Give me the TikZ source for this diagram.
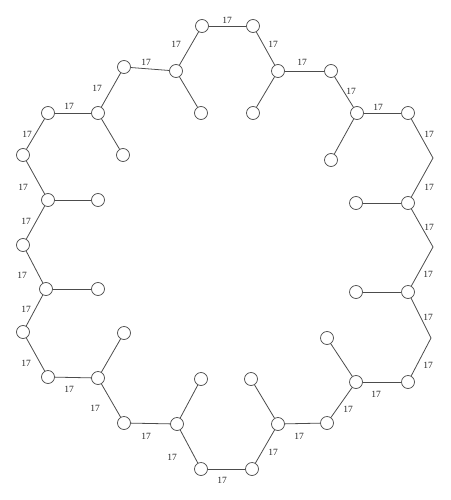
\documentclass[tikz,border=0pt]{standalone}
\usepackage{fontspec}
\setmainfont{Liberation Serif}
\begin{document}
\begin{tikzpicture}[x=1pt,y=-1pt,
  vtx/.style={circle,draw=black!70,fill=white,line width=0.7pt,minimum size=13pt,inner sep=0pt},
  lbl/.style={font=\fontsize{9.5}{10}\selectfont,text=black!85,inner sep=0pt},
  edg/.style={draw=black!70,line width=0.8pt}]
\useasboundingbox (0,0) rectangle (450,500);
% main cycle vertices
\node[vtx] (n1) at (202,26) {};
\node[vtx] (n2) at (253,26) {};
\node[vtx] (n3) at (278,71) {};
\node[vtx] (n4) at (331,71) {};
\node[vtx] (n5) at (357,113) {};
\node[vtx] (n6) at (408,113) {};
\coordinate (b1) at (433,158);
\node[vtx] (n7) at (408,203) {};
\coordinate (b2) at (433,247);
\node[vtx] (n8) at (408,292) {};
\coordinate (b3) at (431,338);
\node[vtx] (n9) at (408,382) {};
\node[vtx] (n10) at (356,382) {};
\node[vtx] (n11) at (327,423) {};
\node[vtx] (n12) at (278,424) {};
\node[vtx] (n13) at (252,469) {};
\node[vtx] (n14) at (201,469) {};
\node[vtx] (n15) at (177,424) {};
\node[vtx] (n16) at (124,423) {};
\node[vtx] (n17) at (98,378) {};
\node[vtx] (n18) at (48,377) {};
\node[vtx] (n19) at (23,332) {};
\node[vtx] (n20) at (46,289) {};
\node[vtx] (n21) at (23,245) {};
\node[vtx] (n22) at (48,200) {};
\node[vtx] (n23) at (23,155) {};
\node[vtx] (n24) at (48,113) {};
\node[vtx] (n25) at (98,113) {};
\node[vtx] (n26) at (124,67) {};
\node[vtx] (n27) at (176,71) {};
% pendant vertices
\node[vtx] (p1) at (201,113) {};
\node[vtx] (p2) at (123,155) {};
\node[vtx] (p3) at (98,200) {};
\node[vtx] (p4) at (98,289) {};
\node[vtx] (p5) at (124,333) {};
\node[vtx] (p6) at (201,379) {};
\node[vtx] (p7) at (251,379) {};
\node[vtx] (p8) at (327,338) {};
\node[vtx] (p9) at (356,292) {};
\node[vtx] (p10) at (356,203) {};
\node[vtx] (p11) at (331,160) {};
\node[vtx] (p12) at (253,113) {};
% labelled cycle edges
\path[edg] (n1) -- (n2) node[lbl] at (227,20) {17};
\path[edg] (n2) -- (n3) node[lbl] at (273,44) {17};
\path[edg] (n3) -- (n4) node[lbl] at (302,62) {17};
\path[edg] (n4) -- (n5) node[lbl] at (351,91) {17};
\path[edg] (n5) -- (n6) node[lbl] at (378,107) {17};
\path[edg] (n6) -- (b1) node[lbl] at (429,134) {17};
\path[edg] (b1) -- (n7) node[lbl] at (429,187) {17};
\path[edg] (n7) -- (b2) node[lbl] at (429,227) {17};
\path[edg] (b2) -- (n8) node[lbl] at (428,274) {17};
\path[edg] (n8) -- (b3) node[lbl] at (428,317) {17};
\path[edg] (b3) -- (n9) node[lbl] at (428,365) {17};
\path[edg] (n9) -- (n10) node[lbl] at (376,394) {17};
\path[edg] (n10) -- (n11) node[lbl] at (348,409) {17};
\path[edg] (n11) -- (n12) node[lbl] at (299,436) {17};
\path[edg] (n12) -- (n13) node[lbl] at (273,452) {17};
\path[edg] (n13) -- (n14) node[lbl] at (222,480) {17};
\path[edg] (n14) -- (n15) node[lbl] at (172,457) {17};
\path[edg] (n15) -- (n16) node[lbl] at (146,436) {17};
\path[edg] (n16) -- (n17) node[lbl] at (95,408) {17};
\path[edg] (n17) -- (n18) node[lbl] at (69,389) {17};
\path[edg] (n18) -- (n19) node[lbl] at (26,363) {17};
\path[edg] (n19) -- (n20) node[lbl] at (26,309) {17};
\path[edg] (n20) -- (n21) node[lbl] at (22,275) {17};
\path[edg] (n21) -- (n22) node[lbl] at (26,221) {17};
\path[edg] (n22) -- (n23) node[lbl] at (23,187) {17};
\path[edg] (n23) -- (n24) node[lbl] at (27,134) {17};
\path[edg] (n24) -- (n25) node[lbl] at (69,106) {17};
\path[edg] (n25) -- (n26) node[lbl] at (97,88) {17};
\path[edg] (n26) -- (n27) node[lbl] at (146,62) {17};
\path[edg] (n27) -- (n1) node[lbl] at (176,44) {17};
% pendant edges
\path[edg] (n27) -- (p1);
\path[edg] (n25) -- (p2);
\path[edg] (n22) -- (p3);
\path[edg] (n20) -- (p4);
\path[edg] (n17) -- (p5);
\path[edg] (n15) -- (p6);
\path[edg] (n12) -- (p7);
\path[edg] (n10) -- (p8);
\path[edg] (n8) -- (p9);
\path[edg] (n7) -- (p10);
\path[edg] (n5) -- (p11);
\path[edg] (n3) -- (p12);
\end{tikzpicture}
\end{document}
